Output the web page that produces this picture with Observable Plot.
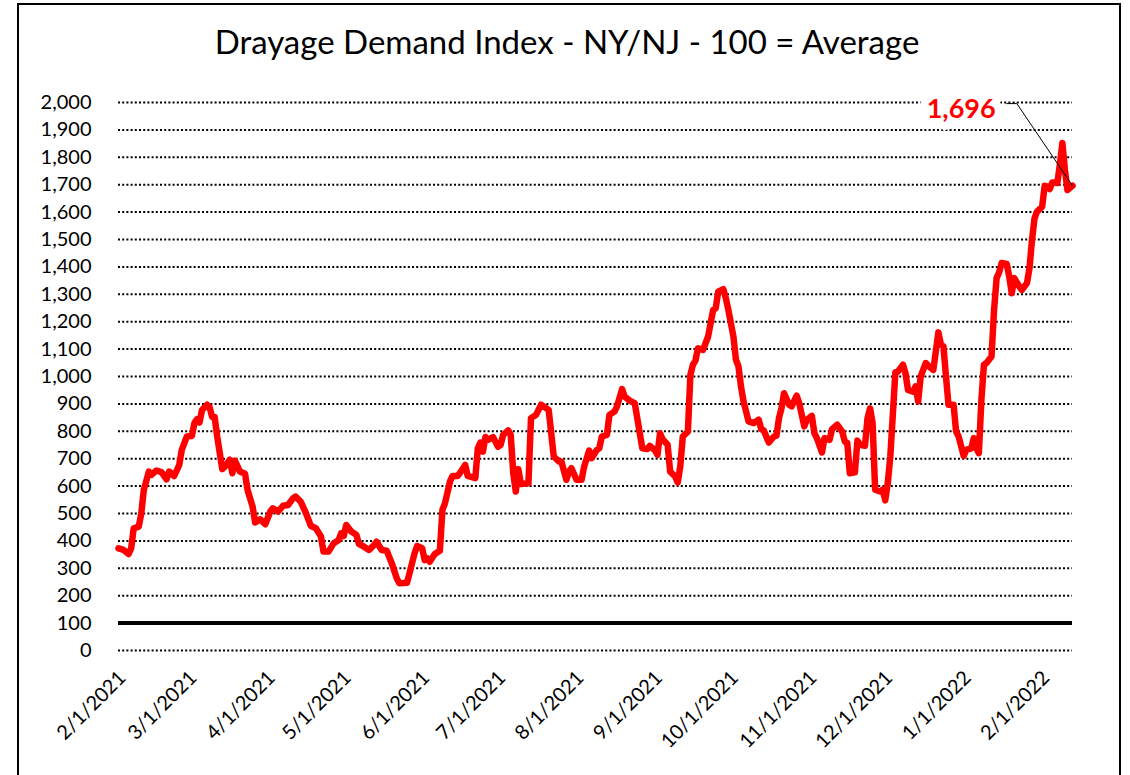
<!DOCTYPE html>
<html><head><meta charset="utf-8">
<script src="https://cdn.jsdelivr.net/npm/d3@7"></script>
<script src="https://cdn.jsdelivr.net/npm/@observablehq/plot@0.6"></script>
<style>
body{margin:0;background:#fff;}
#wrap{position:relative;width:1130px;height:775px;overflow:hidden;font-family:Lato, sans-serif;background:#fff;}
#frame{position:absolute;left:17px;top:3px;width:1104px;height:820px;border:2px solid #000;box-sizing:border-box;}
#title{position:absolute;left:2px;width:1130px;top:21px;text-align:center;font-size:33px;color:#000;line-height:40px;}
#chart{position:absolute;left:0;top:0;}
</style></head>
<body><div id="wrap"><div id="frame"></div><div id="title">Drayage Demand Index - NY/NJ - 100 = Average</div><div id="chart"></div></div>
<script>
const dates = ["2021-02-01","2021-02-03","2021-02-05","2021-02-06","2021-02-07","2021-02-09","2021-02-10","2021-02-11","2021-02-13","2021-02-14","2021-02-16","2021-02-18","2021-02-20","2021-02-21","2021-02-23","2021-02-25","2021-02-26","2021-02-28","2021-03-02","2021-03-03","2021-03-04","2021-03-05","2021-03-06","2021-03-08","2021-03-09","2021-03-10","2021-03-11","2021-03-12","2021-03-14","2021-03-15","2021-03-17","2021-03-18","2021-03-19","2021-03-21","2021-03-23","2021-03-24","2021-03-26","2021-03-27","2021-03-29","2021-03-31","2021-04-02","2021-04-03","2021-04-05","2021-04-07","2021-04-09","2021-04-11","2021-04-12","2021-04-14","2021-04-16","2021-04-18","2021-04-20","2021-04-22","2021-04-23","2021-04-25","2021-04-27","2021-04-29","2021-04-30","2021-05-01","2021-05-02","2021-05-04","2021-05-06","2021-05-07","2021-05-09","2021-05-11","2021-05-13","2021-05-14","2021-05-16","2021-05-18","2021-05-20","2021-05-22","2021-05-23","2021-05-26","2021-05-27","2021-05-29","2021-05-30","2021-06-01","2021-06-02","2021-06-03","2021-06-04","2021-06-06","2021-06-08","2021-06-09","2021-06-10","2021-06-12","2021-06-13","2021-06-15","2021-06-16","2021-06-18","2021-06-19","2021-06-22","2021-06-23","2021-06-24","2021-06-25","2021-06-26","2021-06-27","2021-06-29","2021-07-01","2021-07-02","2021-07-03","2021-07-05","2021-07-06","2021-07-07","2021-07-08","2021-07-09","2021-07-10","2021-07-13","2021-07-14","2021-07-16","2021-07-18","2021-07-21","2021-07-23","2021-07-25","2021-07-26","2021-07-28","2021-07-29","2021-07-30","2021-08-01","2021-08-03","2021-08-04","2021-08-06","2021-08-07","2021-08-09","2021-08-10","2021-08-11","2021-08-13","2021-08-14","2021-08-16","2021-08-17","2021-08-19","2021-08-20","2021-08-22","2021-08-24","2021-08-26","2021-08-27","2021-08-29","2021-08-30","2021-09-01","2021-09-02","2021-09-03","2021-09-04","2021-09-06","2021-09-07","2021-09-09","2021-09-10","2021-09-11","2021-09-12","2021-09-14","2021-09-15","2021-09-16","2021-09-17","2021-09-18","2021-09-20","2021-09-22","2021-09-23","2021-09-24","2021-09-25","2021-09-26","2021-09-28","2021-09-29","2021-09-30","2021-10-02","2021-10-03","2021-10-04","2021-10-05","2021-10-06","2021-10-08","2021-10-10","2021-10-12","2021-10-13","2021-10-14","2021-10-16","2021-10-18","2021-10-19","2021-10-20","2021-10-21","2021-10-22","2021-10-24","2021-10-25","2021-10-27","2021-10-28","2021-10-30","2021-10-31","2021-11-02","2021-11-03","2021-11-04","2021-11-06","2021-11-07","2021-11-09","2021-11-10","2021-11-12","2021-11-14","2021-11-15","2021-11-16","2021-11-17","2021-11-19","2021-11-20","2021-11-21","2021-11-23","2021-11-24","2021-11-25","2021-11-26","2021-11-27","2021-11-29","2021-11-30","2021-12-01","2021-12-02","2021-12-03","2021-12-05","2021-12-06","2021-12-08","2021-12-09","2021-12-10","2021-12-12","2021-12-13","2021-12-14","2021-12-15","2021-12-17","2021-12-18","2021-12-20","2021-12-22","2021-12-23","2021-12-24","2021-12-25","2021-12-26","2021-12-28","2021-12-29","2021-12-30","2022-01-01","2022-01-02","2022-01-04","2022-01-05","2022-01-06","2022-01-07","2022-01-08","2022-01-09","2022-01-10","2022-01-12","2022-01-13","2022-01-14","2022-01-15","2022-01-16","2022-01-18","2022-01-19","2022-01-20","2022-01-21","2022-01-23","2022-01-24","2022-01-26","2022-01-27","2022-01-28","2022-01-29","2022-01-30","2022-02-01","2022-02-02","2022-02-03","2022-02-04","2022-02-05","2022-02-07","2022-02-08","2022-02-09","2022-02-10","2022-02-11","2022-02-13"];

const values = [373,367,352,373,446,452,500,586,653,641,657,651,625,653,637,677,732,781,783,830,844,832,878,897,888,852,852,781,662,671,696,647,693,653,645,586,525,467,479,461,507,519,507,528,531,556,562,543,503,455,446,416,361,361,391,403,428,418,458,434,422,389,379,367,385,397,367,364,318,263,245,247,282,355,381,373,330,336,324,352,364,513,537,617,637,637,649,677,637,629,738,759,726,779,769,779,744,750,787,803,787,647,580,662,608,610,848,860,897,878,708,690,690,623,653,665,623,623,671,730,702,732,738,781,787,860,872,891,954,927,912,903,793,738,735,747,730,714,793,771,751,653,635,613,672,781,799,1006,1043,1058,1103,1097,1146,1195,1243,1249,1310,1319,1286,1243,1146,1061,1037,963,909,836,830,842,808,803,759,781,784,848,884,939,897,891,930,903,818,842,856,793,775,723,775,769,808,824,799,763,757,647,650,766,751,747,848,884,830,587,580,587,548,611,708,1015,1018,1043,1012,951,945,964,909,1000,1049,1039,1024,1161,1116,1110,1000,897,897,799,781,710,732,738,775,738,720,915,1043,1049,1073,1243,1359,1380,1414,1411,1365,1304,1359,1328,1316,1341,1395,1499,1578,1602,1620,1696,1693,1684,1708,1706,1773,1852,1754,1681,1696];

const yTicks = [0,100,200,300,400,500,600,700,800,900,1000,1100,1200,1300,1400,1500,1600,1700,1800,1900,2000];
const averageLevel = [100];
const xTickDates = ["2021-02-01","2021-03-01","2021-04-01","2021-05-01","2021-06-01","2021-07-01","2021-08-01","2021-09-01","2021-10-01","2021-11-01","2021-12-01","2022-01-01","2022-02-01"];

const calloutText = ["1,696"];
const calloutLabelDate = ["2021-12-31"];
const calloutLabelValue = [1974];
const leaderDates = ["2022-01-18","2022-01-22","2022-02-13"];
const leaderValues = [1996,1996,1696];

const parse = s => new Date(s + "T00:00:00Z");
const series = dates.map((d, i) => ({date: parse(d), value: values[i]}));
const leader = leaderDates.map((d, i) => ({date: parse(d), value: leaderValues[i]}));
const callout = calloutText.map((t, i) => ({date: parse(calloutLabelDate[i]), value: calloutLabelValue[i], text: t}));

const chart = Plot.plot({
  width: 1130, height: 775,
  marginLeft: 118, marginRight: 58, marginTop: 102, marginBottom: 125,
  x: {type: "utc", domain: [series[0].date, series[series.length - 1].date]},
  y: {domain: [0, 2000]},
  style: {fontFamily: "Lato, sans-serif", fontSize: "20px", color: "#000", background: "transparent", overflow: "visible"},
  marks: [
    Plot.ruleY(yTicks, {stroke: "#000", strokeWidth: 2, strokeDasharray: "2,2.2"}),
    Plot.ruleY(averageLevel, {stroke: "#000", strokeWidth: 4}),
    Plot.axisY({ticks: yTicks, tickFormat: d3.format(","), tickSize: 0, tickPadding: 27, label: null, fontSize: 20}),
    Plot.axisX({ticks: xTickDates.map(parse), tickFormat: d3.utcFormat("%-m/%-d/%Y"), tickRotate: -45, tickSize: 0, tickPadding: 24, dx: 4, label: null, fontSize: 20}),
    Plot.lineY(series, {x: "date", y: "value", stroke: "#ff0000", strokeWidth: 6.5, strokeLinejoin: "round", strokeLinecap: "round"}),
    Plot.text(callout, {x: "date", y: "value", text: "text", fill: "#ff0000", fontWeight: "bold", fontSize: 27, stroke: "white", strokeWidth: 16}),
    Plot.line(leader, {x: "date", y: "value", stroke: "#000", strokeWidth: 1})
  ]
});
document.getElementById("chart").appendChild(chart);
</script>
</body></html>
